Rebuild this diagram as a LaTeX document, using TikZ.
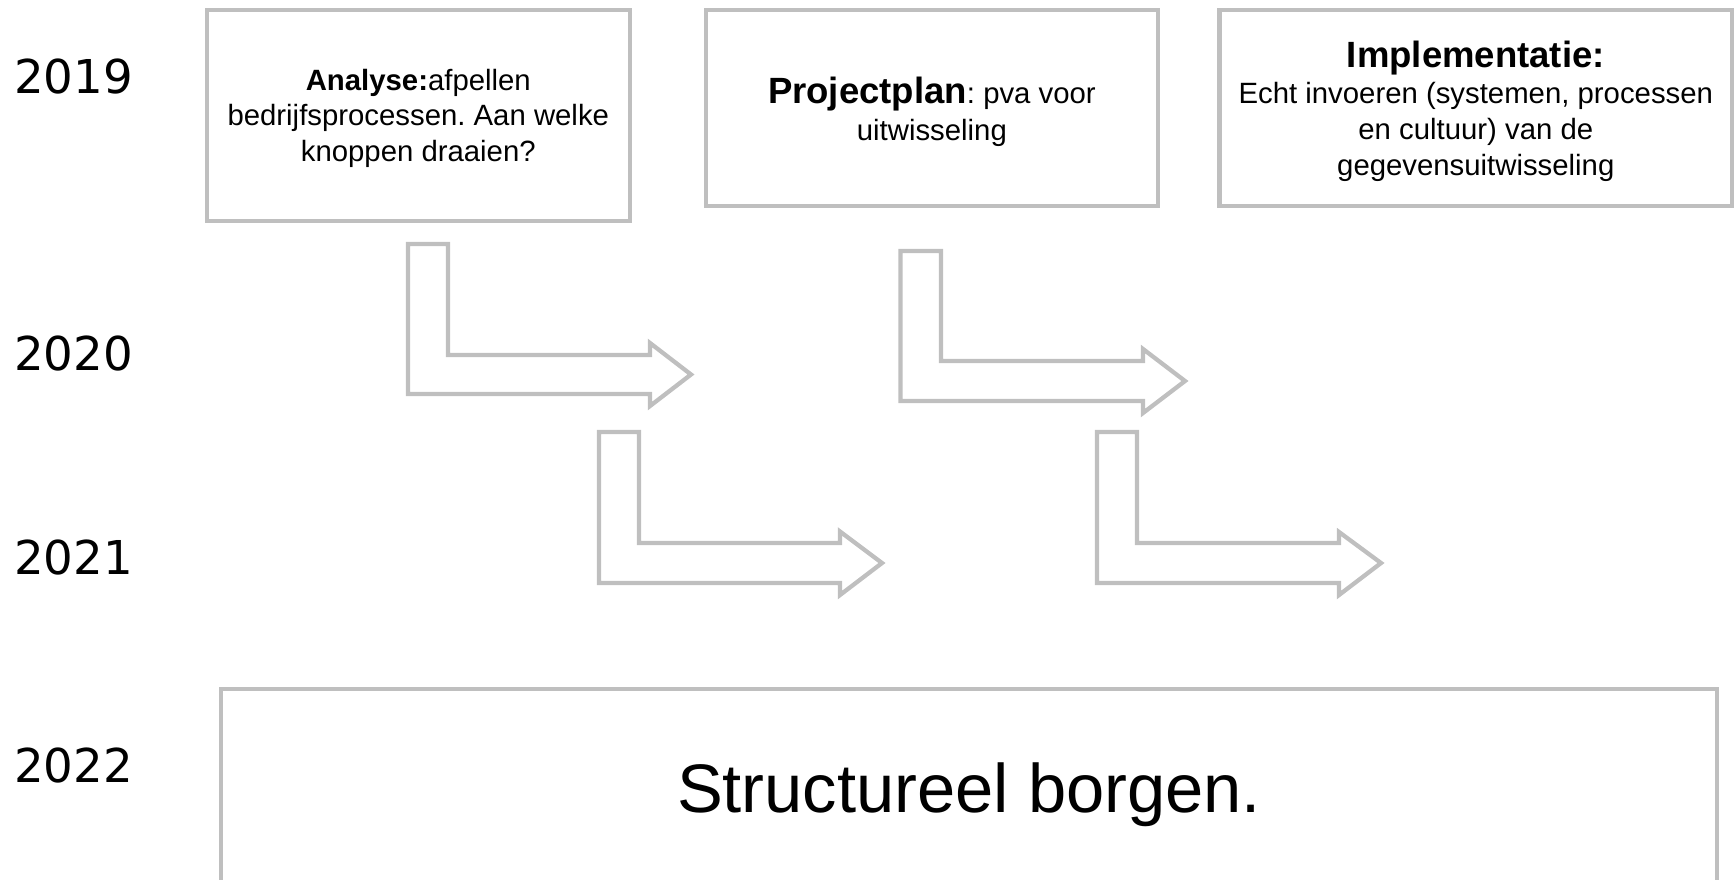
\documentclass[tikz,border=0pt]{standalone}
\usepackage{fontspec}
\setmainfont{Liberation Sans}
\newfontfamily\yearfont{DejaVu Sans}
\definecolor{boxgray}{RGB}{191,191,191}
\frenchspacing
\newcommand\bentarr[9]{% L S T A B H P HT HB
  \draw[arrowshape] (#1,#3) -- (#2,#3) -- (#2,#4) -- (#6,#4) -- (#6,#8) -- (#7,{(#4+#5)/2}) -- (#6,#9) -- (#6,#5) -- (#1,#5) -- cycle;}
\begin{document}
\begin{tikzpicture}[x=0.75pt,y=-0.75pt,
  box/.style={draw=boxgray, line width=3.2pt, fill=white, inner sep=0pt},
  arrowshape/.style={draw=boxgray, line width=3.2pt, line join=miter},
  year/.style={font=\yearfont\fontsize{35}{40}\selectfont, anchor=base west, inner sep=0pt},
  btext/.style={align=center, anchor=base, inner sep=0pt, font=\fontsize{22}{26.3}\selectfont}]
\useasboundingbox (0,0) rectangle (1735,879);
\clip (0,0) rectangle (1735,879);
% years
\node[year] (y2019) at (14,93) {2019};
\node[year] (y2020) at (14,370) {2020};
\node[year] (y2021) at (14,574) {2021};
\node[year] (y2022) at (14,782) {2022};
% boxes
\node[box, minimum width=317pt, minimum height=158.6pt] (b1) at (418.3,115.5) {};
\node[box, minimum width=339.2pt, minimum height=147.2pt] (b2) at (931.9,107.9) {};
\node[box, minimum width=384.3pt, minimum height=147.2pt] (b3) at (1475.8,107.9) {};
\node[box, minimum width=1122pt, minimum height=148.1pt] (b4) at (969,788) {};
% texts (base anchor = last line's baseline)
\node[btext] (t1) at (418.3,161) {\textbf{Analyse:}afpellen\\bedrijfsprocessen. Aan welke\\knoppen draaien?};
\node[btext, font=\fontsize{22}{27.5}\selectfont] (t2) at (931.9,140) {{\fontsize{27.4}{27.5}\selectfont\bfseries Projectplan}: pva voor\\uitwisseling};
\node[btext, font=\fontsize{22}{27}\selectfont] (t3) at (1475.8,175) {{\fontsize{27.4}{27}\selectfont\bfseries Implementatie:}\\Echt invoeren (systemen, processen\\en cultuur) van de\\gegevensuitwisseling};
\node[btext, font=\fontsize{51.5}{60}\selectfont] (t4) at (969,812) {Structureel borgen.};
% bent arrows
\bentarr{408}{448}{244}{355}{394}{650}{691}{343}{406}
\bentarr{900.5}{941}{251}{361}{401}{1143}{1185}{349}{413}
\bentarr{599}{639}{432}{543}{583}{840}{882}{531.5}{595}
\bentarr{1097}{1137}{432}{543}{583}{1339}{1381}{532}{595}
\end{tikzpicture}
\end{document}
